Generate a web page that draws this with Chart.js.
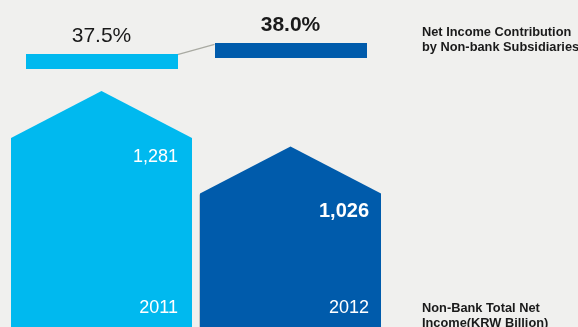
<!DOCTYPE html>
<html>
<head>
<meta charset="utf-8">
<script src="https://cdn.jsdelivr.net/npm/chart.js@4.4.1/dist/chart.umd.min.js"></script>
<style>
  html, body { margin: 0; padding: 0; background: #f0f0ee; }
  #wrap { position: relative; width: 578px; height: 327px; overflow: hidden; }
  canvas { display: block; }
</style>
</head>
<body>
<div id="wrap"><canvas id="c" width="578" height="327"></canvas></div>
<script>
// Years shown on the house-shaped columns
const years = ['2011', '2012'];
// Non-bank total net income, KRW billion
const netIncome = [1281, 1026];
// Net income contribution by non-bank subsidiaries, %
const contribution = [37.5, 38.0];
const valueLabels = ['1,281', '1,026'];
const pctLabels = ['37.5%', '38.0%'];

const FONT = '"Liberation Sans", Arial, Helvetica, sans-serif';
const colors = ['#00b9ef', '#005bab'];
const boldLast = [false, true];

// Flat bar markers used as point styles for the contribution series
function markerCanvas(color) {
  const c = document.createElement('canvas');
  c.width = 152; c.height = 15;
  const g = c.getContext('2d');
  g.fillStyle = color;
  g.fillRect(0, 0, c.width, c.height);
  return c;
}
const markers = colors.map(markerCanvas);

const ROOF = 47; // rise of the roof above the column shoulders, px

const housePlugin = {
  id: 'house',
  beforeDatasetsDraw(chart) {
    const ctx = chart.ctx;
    const bars = chart.getDatasetMeta(0).data;
    bars.forEach((b, i) => {
      const l = Math.round(b.x - b.width / 2), r = Math.round(b.x + b.width / 2);
      const top = b.y, base = b.base;
      ctx.save();
      ctx.fillStyle = colors[i];
      ctx.beginPath();
      ctx.moveTo(l, base);
      ctx.lineTo(l, top + ROOF);
      ctx.lineTo(b.x, top);
      ctx.lineTo(r, top + ROOF);
      ctx.lineTo(r, base);
      ctx.closePath();
      ctx.fill();
      if (i > 0) {
        ctx.fillStyle = '#c4c4c4';
        ctx.fillRect(l - 1, top + ROOF + 1, 1, base - top - ROOF);
      }
      ctx.restore();
    });
    // connector between the contribution markers
    const pts = chart.getDatasetMeta(1).data;
    ctx.save();
    ctx.strokeStyle = '#a9aaa2';
    ctx.lineWidth = 1.3;
    ctx.beginPath();
    ctx.moveTo(pts[0].x + 76, pts[0].y - 6.5);
    ctx.lineTo(pts[1].x - 76, pts[1].y - 6);
    ctx.stroke();
    ctx.restore();
  },
  afterDatasetsDraw(chart) {
    const ctx = chart.ctx;
    const bars = chart.getDatasetMeta(0).data;
    const pts = chart.getDatasetMeta(1).data;
    ctx.save();
    bars.forEach((b, i) => {
      const r = b.x + b.width / 2;
      ctx.fillStyle = '#ffffff';
      ctx.textAlign = 'right';
      ctx.textBaseline = 'alphabetic';
      ctx.font = (boldLast[i] ? 'bold 20px ' : '18px ') + FONT;
      ctx.fillText(valueLabels[i], r - (boldLast[i] ? 12 : 14), b.y + ROOF + 24);
      ctx.font = '18px ' + FONT;
      ctx.fillText(years[i], r - (boldLast[i] ? 12 : 14), chart.chartArea.bottom - 10);
    });
    pts.forEach((p, i) => {
      ctx.fillStyle = '#1a1a1a';
      ctx.textAlign = 'center';
      ctx.font = (boldLast[i] ? 'bold 21px ' : '21px ') + FONT;
      ctx.fillText(pctLabels[i], p.x, p.y - 7.5 - 12);
    });
    // series captions
    ctx.fillStyle = '#1a1a1a';
    ctx.textAlign = 'left';
    ctx.font = 'bold 12.8px ' + FONT;
    ctx.fillText('Net Income Contribution', 422, 36);
    ctx.fillText('by Non-bank Subsidiaries', 422, 51);
    ctx.fillText('Non-Bank Total Net', 422, 312);
    ctx.fillText('Income(KRW Billion)', 422, 327);
    ctx.restore();
  }
};

new Chart(document.getElementById('c'), {
  type: 'bar',
  data: {
    labels: years,
    datasets: [
      {
        type: 'bar',
        data: netIncome,
        yAxisID: 'y',
        backgroundColor: 'rgba(0,0,0,0)',
        borderWidth: 0,
        barPercentage: 1,
        categoryPercentage: 0.958
      },
      {
        type: 'line',
        data: contribution,
        yAxisID: 'y2',
        showLine: false,
        pointStyle: markers,
        pointRadius: 3,
        pointHoverRadius: 3
      }
    ]
  },
  options: {
    responsive: false,
    animation: false,
    events: [],
    layout: { padding: { left: 7, right: 193, top: 0, bottom: 0 } },
    plugins: { legend: { display: false }, tooltip: { enabled: false } },
    scales: {
      x: { display: false, offset: true },
      y: { display: false, min: 215, max: 1680 },
      y2: { display: false, min: 25.3, max: 40.16 }
    }
  },
  plugins: [housePlugin]
});
</script>
</body>
</html>
